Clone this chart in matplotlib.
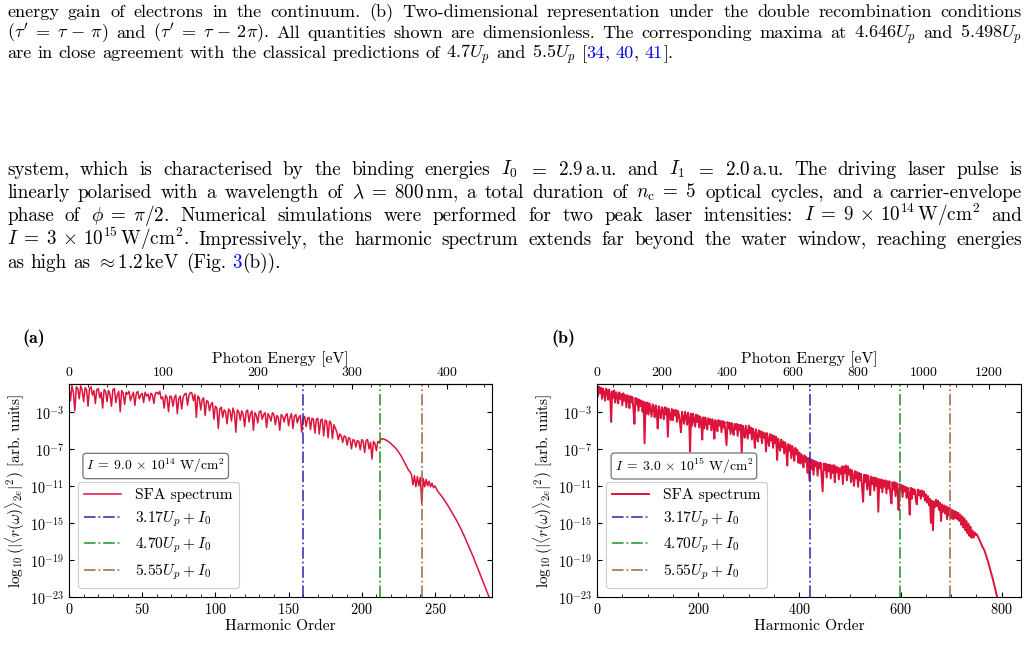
import re

import matplotlib
matplotlib.use("Agg")
import matplotlib.pyplot as plt
import numpy as np
from matplotlib.ticker import AutoMinorLocator, NullLocator

plt.rcParams.update({
    "font.family": "cmr10",
    "mathtext.fontset": "cm",
    "axes.formatter.use_mathtext": True,
    "axes.unicode_minus": False,
    "xtick.direction": "in",
    "ytick.direction": "in",
})

W, H = 1029, 663
EV_PER_ORDER = 1.55

# ---- panel (a): I = 9.0e14 W/cm^2, log10 of spectrum
orders_a = list(range(0, 251)) + [252, 255, 258, 261, 264, 267, 270, 273, 276, 279, 282, 285, 288]
log_a = [
    -0.4, -1.8, -0.2, -0.9, -2.9, -0.3, -0.5, -1.6, -0.2, -0.7,
    -1.9, -0.4, -0.6, -2.4, -0.5, -0.3, -1.2, -0.7, -2.1, -0.6,
    -0.5, -1.5, -0.9, -2.6, -0.6, -0.8, -1.9, -0.7, -1.1, -2.4,
    -0.6, -0.5, -2.0, -1.2, -0.8, -3.0, -0.7, -1.0, -2.2, -0.9,
    -1.1, -0.8, -1.8, -1.3, -0.9, -2.3, -1.0, -0.8, -1.6, -1.2,
    -1.0, -2.0, -0.9, -1.3, -1.1, -1.8, -1.0, -1.2, -2.1, -1.0,
    -0.9, -1.1, -0.8, -1.6, -1.4, -2.6, -1.2, -1.5, -3.0, -1.3,
    -1.4, -2.4, -1.5, -1.2, -3.2, -1.6, -1.3, -2.7, -1.4, -1.1,
    -1.0, -2.3, -1.2, -0.9, -1.0, -1.8, -1.1, -3.6, -1.3, -1.5,
    -2.8, -1.7, -1.5, -3.4, -1.8, -1.9, -2.9, -2.2, -2.0, -3.8,
    -2.4, -2.6, -4.8, -2.7, -2.5, -3.6, -2.8, -3.0, -4.3, -2.7,
    -2.9, -4.0, -2.6, -3.1, -5.2, -2.8, -3.0, -3.9, -2.9, -3.3,
    -4.6, -3.0, -2.8, -4.1, -3.2, -2.9, -5.0, -3.1, -3.4, -4.2,
    -3.0, -2.9, -3.8, -3.3, -3.1, -4.7, -3.2, -3.5, -4.0, -3.1,
    -3.3, -4.4, -3.4, -3.6, -5.0, -3.3, -3.5, -4.1, -3.4, -3.2,
    -4.5, -3.6, -3.2, -4.8, -3.5, -3.3, -4.2, -3.6, -3.4, -5.2,
    -3.8, -3.5, -4.6, -3.7, -3.6, -4.9, -3.7, -3.8, -5.3, -3.8,
    -3.7, -5.4, -3.9, -3.8, -5.6, -3.9, -4.0, -5.8, -4.0, -4.2,
    -5.9, -4.4, -4.8, -5.2, -6.0, -5.4, -5.6, -6.3, -5.6, -5.7,
    -6.6, -5.8, -5.9, -7.0, -6.0, -6.1, -6.8, -6.1, -6.2, -7.1,
    -6.0, -6.2, -7.4, -6.1, -6.0, -7.0, -6.3, -8.1, -6.2, -6.4,
    -7.2, -6.2, -6.3, -6.0, -5.9, -5.95, -6.0, -6.1, -6.2, -6.3,
    -6.45, -6.6, -6.75, -6.9, -7.1, -7.3, -7.55, -7.8, -8.1, -8.4,
    -8.7, -9.0, -9.3, -9.5, -9.8, -10.9, -9.9, -11.1, -10.0, -11.0,
    -10.1, -12.9, -10.2, -11.1, -10.3, -11.0, -10.5, -11.1, -10.7, -11.2,
    -11.0,
    -11.6, -12.2, -12.9, -13.7, -14.5, -15.4, -16.4, -17.5, -18.6, -19.8, -21.0, -22.2, -23.4,
]
cutoffs_a = [160.0, 212.5, 241.5]

# ---- panel (b): I = 3.0e15 W/cm^2
orders_b = list(range(0, 751, 2)) + [754, 758, 762, 766, 770, 774, 778, 782, 786, 790, 794]
log_b = [
    -0.1, -1.3, -0.3, -1.0, -0.4, -1.6, -0.5, -0.9, -1.8, -0.5, -0.7, -1.7, -0.6, -1.2, -4.1, -0.8, -1.5, -0.7, -2.0, -0.9, -1.3, -2.1, -0.9, -1.6, -1.1,
    -2.3, -1.0, -1.8, -1.2, -2.5, -1.2, -1.5, -2.6, -1.3, -2.0, -1.4, -2.7, -4.3, -1.5, -2.2, -1.6, -2.9, -1.7, -2.4, -1.8, -3.0, -1.9, -6.4, -2.0, -3.2,
    -2.0, -3.3, -2.1, -2.8, -3.5, -2.2, -2.6, -3.6, -2.3, -3.0, -4.8, -2.4, -3.1, -3.7, -2.5, -2.8, -3.8, -2.5, -3.3, -2.6, -5.7, -2.7, -3.4, -3.9, -2.7,
    -3.9, -2.8, -3.4, -2.8, -4.1, -2.9, -3.3, -4.2, -5.2, -3.0, -3.6, -4.3, -3.0, -3.5, -4.4, -3.1, -3.7, -7.3, -3.2, -4.5, -3.2, -3.9, -4.6, -3.3, -4.1,
    -3.4, -4.7, -3.5, -4.0, -6.0, -3.6, -4.8, -3.6, -4.2, -4.9, -3.7, -4.3, -3.8, -5.0, -3.8, -4.4, -5.9, -3.9, -4.6, -5.1, -3.9, -4.5, -4.0, -5.2, -4.0,
    -4.7, -4.1, -5.3, -6.6, -4.1, -4.8, -4.2, -5.4, -4.2, -4.9, -5.5, -4.3, -4.9, -4.3, -5.6, -4.4, -5.0, -4.4, -7.5, -4.5, -5.1, -5.8, -4.5, -5.2, -5.9,
    -4.5, -5.3, -4.7, -6.0, -4.8, -5.4, -6.9, -4.9, -5.6, -6.2, -5.0, -5.7, -5.1, -6.4, -5.2, -5.8, -5.3, -7.3, -5.3, -6.0, -6.7, -5.4, -6.1, -5.5, -6.9,
    -5.6, -6.4, -5.7, -8.2, -5.9, -6.6, -7.2, -6.0, -6.8, -6.2, -7.5, -6.3, -7.0, -8.8, -6.5, -7.2, -6.6, -8.0, -6.7, -7.4, -8.3, -6.9, -7.6, -7.1, -8.5,
    -7.4, -8.6, -7.6, -8.2, -9.0, -7.7, -8.4, -7.9, -9.6, -8.0, -10.4, -8.1, -9.2, -8.2, -9.8, -8.3, -8.9, -8.4, -9.9, -8.5, -9.1, -8.5, -10.0, -11.6, -8.6,
    -9.3, -8.6, -10.1, -8.7, -9.4, -8.7, -10.2, -8.8, -9.6, -8.75, -10.6, -8.9, -9.5, -9.0, -10.3, -9.1, -9.7, -8.9, -10.8, -8.9, -9.6, -8.8, -10.4, -8.9, -9.8,
    -9.2, -10.6, -9.3, -10.0, -11.0, -9.4, -10.2, -9.5, -11.1, -9.6, -10.4, -9.7, -11.3, -12.7, -9.8, -10.6, -9.8, -11.4, -9.9, -10.7, -12.0, -10.0, -10.8, -10.1, -11.5,
    -10.1, -11.0, -10.2, -13.8, -10.3, -11.2, -10.3, -11.7, -10.4, -11.1, -10.4, -11.8, -10.5, -11.3, -10.5, -12.0, -12.9, -10.6, -11.4, -10.6, -12.1, -10.7, -11.5, -13.6, -10.8,
    -11.5, -10.9, -12.2, -11.0, -11.6, -11.1, -12.3, -11.2, -11.8, -14.1, -11.2, -12.4, -11.3, -11.9, -11.4, -12.5, -13.0, -11.4, -12.0, -11.5, -12.4, -11.5, -12.1, -11.6, -12.6,
    -11.9, -12.8, -12.1, -13.1, -12.4, -15.0, -12.6, -15.8, -12.7, -13.3, -12.5, -13.2, -12.6, -13.6, -12.8, -14.8, -13.0, -13.8, -13.1, -14.0, -13.2, -14.6, -13.3, -14.2, -13.4,
    -14.5, -13.6, -14.6, -13.7, -14.5, -13.8, -14.6, -13.9, -14.8, -14.1, -15.2, -14.3, -15.5, -14.5, -15.8, -14.8, -16.1, -15.1, -16.4, -15.4, -16.6, -15.8, -16.6, -16.0, -16.3,
    -16.2,
    -16.6, -17.1, -17.6, -18.0, -18.7, -19.4, -20.2, -21.0, -21.9, -22.8, -23.8,
]
cutoffs_b = [420.0, 598.0, 697.0]

cutoff_labels = [r"$3.17U_p + I_0$", r"$4.70U_p + I_0$", r"$5.55U_p + I_0$"]
cutoff_colors = ["#2a2aa8", "#1f921f", "#a0623a"]
yticks = [1e-23, 1e-19, 1e-15, 1e-11, 1e-7, 1e-3]

caption_lines = [
    "energy gain of electrons in the continuum.  (b) Two-dimensional representation under the double recombination conditions",
    r"$(\tau' \;=\; \tau \,-\, \pi)$ and $(\tau' \;=\; \tau \,-\, 2\pi)$. All quantities shown are dimensionless. The corresponding maxima at $4.646U_p$ and $5.498U_p$",
    r"are in close agreement with the classical predictions of $4.7U_p$ and $5.5U_p$ [{{34}}, {{40}}, {{41}}].",
]
body_lines = [
    r"system, which is characterised by the binding energies $I_0$ $=$ 2.9$\,$a.u. and $I_1$ $=$ 2.0$\,$a.u. The driving laser pulse is",
    r"linearly polarised with a wavelength of $\lambda \;=\; 800\,$nm, a total duration of $n_\mathrm{c} \;=\; 5$ optical cycles, and a carrier-envelope",
    r"phase of $\phi \;=\; \pi/2$. Numerical simulations were performed for two peak laser intensities: $I \;=\; 9 \,\times\, 10^{14}\,\mathrm{W/cm^2}$ and",
    r"$I \;=\; 3 \,\times\, 10^{15}\,\mathrm{W/cm^2}$. Impressively, the harmonic spectrum extends far beyond the water window, reaching energies",
    r"as high as $\approx 1.2\,$keV (Fig. {{3}}(b)).",
]

fig = plt.figure(figsize=(W / 100, H / 100), dpi=100)
renderer = fig.canvas.get_renderer()


def words_of(line):
    out, cur, inmath = [], "", False
    for ch in line:
        if ch == "$":
            inmath = not inmath
        if ch == " " and not inmath:
            if cur:
                out.append(cur)
            cur = ""
        else:
            cur += ch
    if cur:
        out.append(cur)
    return out


def put_line(line, y, size, justify=True, x0=7, x1=1022):
    pieces = []
    for w in words_of(line):
        segs = [s for s in re.split(r"(\{\{.*?\}\})", w) if s]
        ts, ws = [], []
        for s in segs:
            color = "black"
            if s.startswith("{{"):
                s, color = s[2:-2], "#0000ee"
            t = fig.text(0, 1 - y / H, s, fontsize=size, color=color, va="baseline")
            ts.append(t)
            ws.append(t.get_window_extent(renderer).width)
        pieces.append((ts, ws))
    total = sum(sum(ws) for _, ws in pieces)
    if justify:
        gap = (x1 - x0 - total) / (len(pieces) - 1)
    else:
        gap = size * 100 / 72 * 0.33
    x = x0
    for ts, ws in pieces:
        for t, wi in zip(ts, ws):
            t.set_x(x / W)
            x += wi
        x += gap


for i, line in enumerate(caption_lines):
    put_line(line, 17 + 20.6 * i, 13.1, justify=i < len(caption_lines) - 1)
for i, line in enumerate(body_lines):
    put_line(line, 175 + 23.2 * i, 13.8, justify=i < len(body_lines) - 1)


def panel(rect, orders, logs, lw, cutoffs, xmax, xticks, xminor, evticks, evminor, intensity, tag, tag_x):
    ax = fig.add_axes(rect)
    ax.plot(orders, 10.0 ** np.array(logs), color="crimson", lw=lw, label="SFA spectrum")
    for c, lab, col in zip(cutoffs, cutoff_labels, cutoff_colors):
        ax.axvline(c, color=col, ls="-.", lw=1.3, alpha=0.85, label=lab)
    ax.set_yscale("log")
    ax.set_ylim(1e-23, 1)
    ax.set_xlim(0, xmax)
    ax.set_yticks(yticks)
    ax.yaxis.set_minor_locator(NullLocator())
    ax.set_xticks(xticks)
    ax.xaxis.set_minor_locator(AutoMinorLocator(xminor))
    ax.tick_params(which="both", top=False, right=True, labelsize=10.3)
    ax.set_xlabel("Harmonic Order", fontsize=11.2, labelpad=2)
    ax.set_ylabel(r"$\log_{10}(|\langle r(\omega)\rangle_{2e}|^2)$ [arb. units]", fontsize=11)
    ax.yaxis.set_label_coords(-0.1, 0.5)
    sec = ax.secondary_xaxis("top", functions=(lambda h: h * EV_PER_ORDER, lambda e: e / EV_PER_ORDER))
    sec.set_xticks(evticks)
    sec.xaxis.set_minor_locator(AutoMinorLocator(evminor))
    sec.tick_params(which="both", direction="in", labelsize=10)
    sec.set_xlabel("Photon Energy [eV]", fontsize=11.3, labelpad=2)
    ax.text(0.205, 0.615, intensity, transform=ax.transAxes, ha="center", va="center", fontsize=9.8,
            bbox=dict(boxstyle="round,pad=0.25", fc="white", ec="0.45", lw=0.9))
    leg = ax.legend(loc="upper left", bbox_to_anchor=(0.021, 0.54), borderaxespad=0, fontsize=11.2,
                    fancybox=True, framealpha=1.0, edgecolor="0.8", handlelength=2.4,
                    handletextpad=0.9, labelspacing=0.45, borderpad=0.4)
    leg.get_frame().set_linewidth(0.8)
    fig.text(tag_x / W, 1 - 338 / H, tag, fontfamily="cmb10", fontsize=13, ha="center", va="center")
    return ax


panel([69 / W, 66 / H, 423 / W, 213 / H], orders_a, log_a, 1.1, cutoffs_a, 289,
      [0, 50, 100, 150, 200, 250], 5, [0, 100, 200, 300, 400], 5,
      r"$I \;=\; 9.0 \,\times\, 10^{14}$ W/cm$^2$", "(a)", 34)
panel([597 / W, 66 / H, 424 / W, 213 / H], orders_b, log_b, 1.4, cutoffs_b, 838,
      [0, 200, 400, 600, 800], 4, [0, 200, 400, 600, 800, 1000, 1200], 4,
      r"$I \;=\; 3.0 \,\times\, 10^{15}$ W/cm$^2$", "(b)", 563)

fig.savefig("out.png", dpi=100)
